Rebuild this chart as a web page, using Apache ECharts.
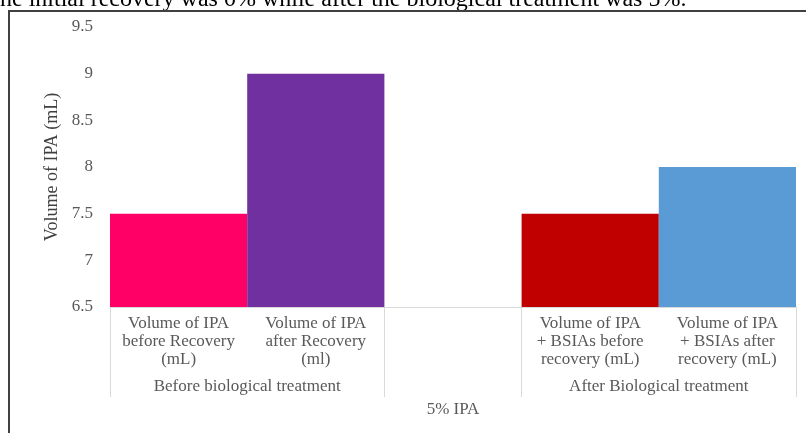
<!DOCTYPE html>
<html>
<head>
<meta charset="utf-8">
<script src="https://cdn.jsdelivr.net/npm/echarts@6/dist/echarts.min.js"></script>
<style>
html, body { margin: 0; padding: 0; background: #fff; }
#chart { width: 806px; height: 433px; }
</style>
</head>
<body>
<div id="chart"></div>
<script>
var serif = '"Liberation Serif", "Times New Roman", serif';

// categories (middle slot is the empty gap between the two groups)
var categories = [
    'Volume of IPA\nbefore Recovery\n(mL)',
    'Volume of IPA\nafter Recovery\n(ml)',
    '',
    'Volume of IPA\n+ BSIAs before\nrecovery (mL)',
    'Volume of IPA\n+ BSIAs after\nrecovery (mL)'
];
var groupLabels = ['', 'Before biological treatment', '', '', 'After Biological treatment', ''];
var volumes = [7.5, 9, '-', 7.5, 8];
var barColors = ['#FF0066', '#7030A0', '#FFFFFF', '#C00000', '#5B9BD5'];
var yTicks = { min: 6.5, max: 9.5, step: 0.5 };

var myChart = echarts.init(document.getElementById('chart'));
var option = {
    animation: false,
    backgroundColor: '#fff',
    graphic: [
        {
            // bottom of the paragraph line above the figure, cut off by the crop
            type: 'text',
            left: 0,
            top: -12,
            style: {
                text: 'he initial recovery was 0% while after the biological treatment was 5%.',
                font: '24px ' + serif,
                fill: '#000'
            }
        },
        {
            type: 'rect',
            shape: { x: 9, y: 11, width: 830, height: 460 },
            style: { fill: '#fff', stroke: '#404040', lineWidth: 2 }
        }
    ],
    grid: {
        left: 110,
        right: 10,
        top: 27,
        bottom: 126
    },
    xAxis: [
        {
            type: 'category',
            data: categories,
            axisLine: { lineStyle: { color: '#d9d9d9', width: 1 } },
            axisTick: { show: false },
            axisLabel: {
                interval: 0,
                margin: 8,
                color: '#595959',
                fontFamily: serif,
                fontSize: 17,
                lineHeight: 18
            }
        },
        {
            type: 'category',
            position: 'bottom',
            boundaryGap: false,
            data: groupLabels,
            axisLine: { show: false },
            axisTick: {
                show: true,
                length: 90,
                interval: function (index) {
                    return index === 0 || index === 2 || index === 3 || index === 5;
                },
                lineStyle: { color: '#d9d9d9', width: 1 }
            },
            axisLabel: {
                interval: 0,
                margin: 71,
                color: '#595959',
                fontFamily: serif,
                fontSize: 17,
                lineHeight: 18
            },
            name: '5% IPA',
            nameLocation: 'middle',
            nameGap: 93,
            nameTextStyle: {
                color: '#595959',
                fontFamily: serif,
                fontSize: 17
            }
        }
    ],
    yAxis: {
        type: 'value',
        min: yTicks.min,
        max: yTicks.max,
        interval: yTicks.step,
        axisLine: { show: false },
        axisTick: { show: false },
        splitLine: { show: false },
        axisLabel: {
            margin: 17,
            color: '#595959',
            fontFamily: serif,
            fontSize: 17
        },
        name: 'Volume of IPA (mL)',
        nameLocation: 'middle',
        nameGap: 48,
        nameTextStyle: {
            color: '#404040',
            fontFamily: serif,
            fontSize: 18
        }
    },
    series: [
        {
            type: 'bar',
            xAxisIndex: 0,
            barWidth: '100%',
            data: volumes.map(function (v, i) {
                return { value: v, itemStyle: { color: barColors[i] } };
            })
        }
    ]
};

myChart.setOption(option);
</script>
</body>
</html>
